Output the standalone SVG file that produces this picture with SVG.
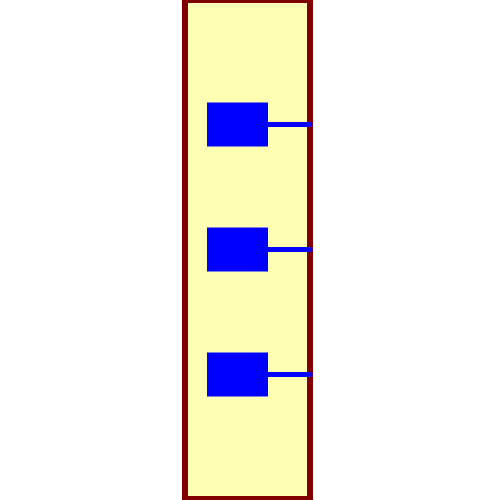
<svg xmlns="http://www.w3.org/2000/svg" width="500" height="500" viewBox="0 0 500 500">
<style>
.body{fill:#ffffb3;stroke:#800000;stroke-width:6}
.port{fill:#0000ff}
.wire{stroke:#0000ff;stroke-width:5;stroke-linecap:round}
</style>
<g id="container"><rect class="body" x="185" y="0" width="125" height="499"/></g>
<g id="node1"><rect class="port" x="207" y="102.5" width="61" height="44"/></g>
<g id="node2"><rect class="port" x="207" y="227.5" width="61" height="44"/></g>
<g id="node3"><rect class="port" x="207" y="352.5" width="61" height="44"/></g>
<g id="connectors">
<line class="wire" x1="268" y1="124.5" x2="310" y2="124.5"/>
<line class="wire" x1="268" y1="249.5" x2="310" y2="249.5"/>
<line class="wire" x1="268" y1="374.5" x2="310" y2="374.5"/>
</g>
</svg>
